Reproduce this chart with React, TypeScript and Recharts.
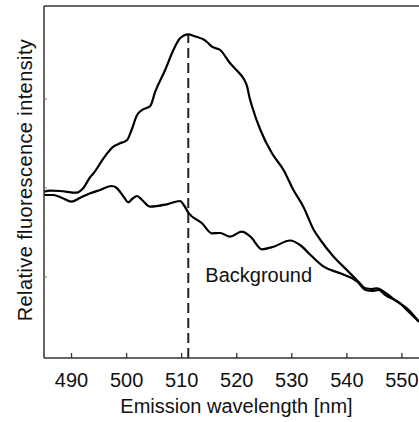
import { LineChart, Line, XAxis, YAxis, ReferenceLine, ReferenceDot } from "recharts";

// emission wavelength (nm) and relative intensity (arbitrary units)
const SIGNAL_WL = [
  485.0, 486.1, 487.9, 490.9, 492.1, 493.4, 494.0, 495.8, 497.6, 498.8, 500.1, 500.9, 501.9, 502.8,
  504.3, 505.2, 507.0, 508.5, 509.7, 511.2, 512.5, 514.0, 514.8, 515.5, 517.0, 518.8, 520.1, 521.2,
  521.9, 522.3, 522.8, 524.3, 526.4, 528.5, 530.3, 532.1, 534.0, 535.2, 537.6, 540.0, 542.1, 543.4,
  544.5, 545.5, 546.7, 549.1, 550.9, 553.1,
];
const SIGNAL_I = [
  166.3, 167.3, 167, 165.3, 169.7, 181, 184.7, 199.7, 211.3, 214.7, 218, 228, 243, 248,
  252, 266.3, 288, 308, 319.7, 323.7, 321.5, 318.5, 315, 311.3, 308, 294.7, 287, 279.7,
  271.3, 261, 251.3, 228, 204.7, 188, 168, 151.3, 128, 118, 101.3, 88, 76.3, 69.7,
  69, 69.7, 66.3, 56.3, 49.7, 36.3,
];

const BG_WL = [
  485.0, 486.7, 488.3, 490.0, 491.5, 493.4, 495.2, 497.3, 498.1, 498.8, 499.5, 500.3, 501.0, 501.9,
  502.8, 504.3, 507.3, 509.7, 510.5, 511.2, 513.7, 515.5, 517.0, 518.8, 520.9, 522.5, 524.6, 526.7,
  529.7, 531.5, 533.4, 535.8, 538.8, 541.9, 543.4, 544.6, 545.8, 547.0, 549.7, 550.9, 553.1,
];
const BG_I = [
  163, 163, 160, 156.3, 160, 164.7, 168, 172, 170.5, 166.3, 161, 155.7, 159, 162,
  158, 151.3, 153.7, 157, 152, 145.5, 134.7, 124.7, 125, 121.3, 126.3, 121.3, 108.7, 111.3,
  117.5, 113, 103, 91.3, 84.7, 76.3, 68, 67, 68, 63, 54.7, 48, 36.3,
];

const X_TICKS = [490, 500, 510, 520, 530, 540, 550];
const Y_TICKS = [81, 170, 259];
const PEAK_WL = 511.2;
const PEAK_I = 323.7;

const signal = SIGNAL_WL.map((wl, i) => ({ wl, v: SIGNAL_I[i] }));
const background = BG_WL.map((wl, i) => ({ wl, v: BG_I[i] }));

const FONT = "'Liberation Sans', Arial, sans-serif";
const AXIS = "#333";
const INK = "#111";

const XTick = (props: any) => {
  const { x, payload } = props;
  return (
    <g>
      <line x1={x} x2={x} y1={358} y2={353} stroke={AXIS} strokeWidth={1.3} />
      <text x={x} y={387} textAnchor="middle" fontFamily={FONT} fontSize={20} fill={INK}>
        {payload.value}
      </text>
    </g>
  );
};

const YTick = (props: any) => {
  const { y } = props;
  return <line x1={44} x2={47} y1={y} y2={y} stroke="#777" strokeWidth={1} />;
};

export default function App() {
  return (
    <div style={{ position: "absolute", left: 0, top: 0, background: "#fff" }}>
      <LineChart width={419} height={422} margin={{ top: 6, right: 0, left: 4, bottom: 0 }}>
        <XAxis
          dataKey="wl"
          type="number"
          domain={[485, 553.1]}
          ticks={X_TICKS}
          allowDataOverflow
          height={64}
          tickLine={false}
          tick={<XTick />}
          axisLine={{ stroke: AXIS, strokeWidth: 1.5 }}
          label={{
            content: () => (
              <text x={236.5} y={413} textAnchor="middle" fontFamily={FONT} fontSize={20} fill={INK}>
                Emission wavelength [nm]
              </text>
            ),
          }}
        />
        <YAxis
          type="number"
          domain={[0, 352]}
          ticks={Y_TICKS}
          allowDataOverflow
          width={40}
          tickLine={false}
          tick={<YTick />}
          axisLine={{ stroke: AXIS, strokeWidth: 1.5 }}
          label={{
            content: () => (
              <text
                x={32}
                y={180}
                transform="rotate(-90 32 180)"
                textAnchor="middle"
                fontFamily={FONT}
                fontSize={20}
                letterSpacing={0.4}
                fill={INK}
              >
                Relative fluorescence intensity
              </text>
            ),
          }}
        />
        <ReferenceLine y={352} stroke={AXIS} strokeWidth={1.5} />
        <ReferenceLine
          segment={[
            { x: PEAK_WL, y: 0 },
            { x: PEAK_WL, y: PEAK_I },
          ]}
          stroke="#222"
          strokeWidth={2}
          strokeDasharray="10 5"
        />
        <Line
          data={background}
          dataKey="v"
          type="monotone"
          stroke="#000"
          strokeWidth={2.2}
          dot={false}
          isAnimationActive={false}
        />
        <Line
          data={signal}
          dataKey="v"
          type="monotone"
          stroke="#000"
          strokeWidth={2.2}
          dot={false}
          isAnimationActive={false}
        />
        <ReferenceDot
          x={514.3}
          y={76}
          r={0}
          shape={(p: any) => (
            <text x={p.cx} y={p.cy} fontFamily={FONT} fontSize={20} fill={INK}>
              Background
            </text>
          )}
        />
      </LineChart>
    </div>
  );
}
